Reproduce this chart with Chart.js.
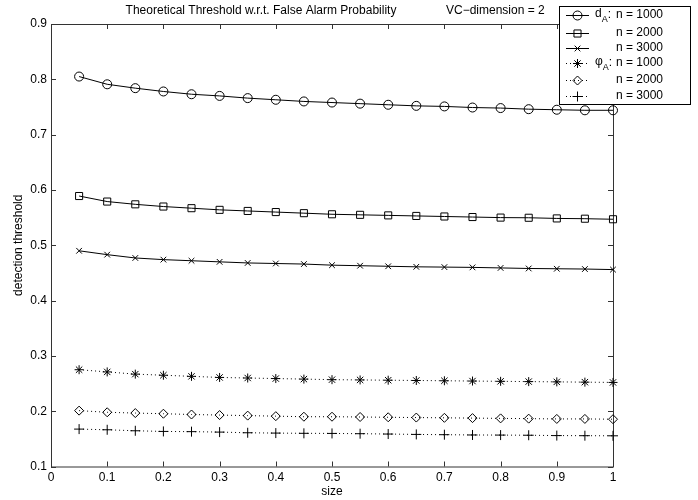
<!DOCTYPE html>
<html>
<head>
<meta charset="utf-8">
<title>Theoretical Threshold w.r.t. False Alarm Probability</title>
<script src="https://cdn.jsdelivr.net/npm/chart.js"></script>
<style>
  html, body { margin: 0; padding: 0; background: #fff; }
  #wrap { width: 698px; height: 500px; }
</style>
</head>
<body>
<div id="wrap"><canvas id="chart" width="698" height="500"></canvas></div>
<script>
// data
const sizes = [0.05, 0.1, 0.15, 0.2, 0.25, 0.3, 0.35, 0.4, 0.45, 0.5,
               0.55, 0.6, 0.65, 0.7, 0.75, 0.8, 0.85, 0.9, 0.95, 1.0];

const dA1000 = [0.805, 0.791, 0.784, 0.778, 0.773, 0.770, 0.766, 0.763, 0.760, 0.758,
                0.756, 0.754, 0.752, 0.751, 0.749, 0.748, 0.746, 0.745, 0.744, 0.744];
const dA2000 = [0.589, 0.579, 0.574, 0.570, 0.567, 0.564, 0.562, 0.560, 0.558, 0.556,
                0.555, 0.554, 0.553, 0.552, 0.551, 0.550, 0.5497, 0.5485, 0.548, 0.547];
const dA3000 = [0.490, 0.483, 0.477, 0.474, 0.472, 0.470, 0.468, 0.467, 0.466, 0.464,
                0.463, 0.462, 0.461, 0.4605, 0.460, 0.459, 0.458, 0.4575, 0.457, 0.456];
const phiA1000 = [0.275, 0.271, 0.267, 0.265, 0.263, 0.261, 0.260, 0.259, 0.258, 0.257,
                  0.2565, 0.256, 0.2555, 0.255, 0.2545, 0.254, 0.2535, 0.253, 0.2525, 0.252];
const phiA2000 = [0.201, 0.198, 0.1966, 0.1954, 0.194, 0.193, 0.192, 0.191, 0.190, 0.190,
                  0.1895, 0.189, 0.1885, 0.188, 0.1875, 0.187, 0.1865, 0.186, 0.186, 0.1855];
const phiA3000 = [0.1676, 0.1664, 0.1646, 0.1634, 0.163, 0.1622, 0.161, 0.1604, 0.160, 0.1598,
                  0.1593, 0.1587, 0.158, 0.1575, 0.157, 0.1568, 0.1565, 0.1559, 0.1557, 0.1555];

const xTicks = [0, 0.1, 0.2, 0.3, 0.4, 0.5, 0.6, 0.7, 0.8, 0.9, 1];
const xTickLabels = ['0', '0.1', '0.2', '0.3', '0.4', '0.5', '0.6', '0.7', '0.8', '0.9', '1'];
const yTicks = [0.1, 0.2, 0.3, 0.4, 0.5, 0.6, 0.7, 0.8, 0.9];
const yTickLabels = ['0.1', '0.2', '0.3', '0.4', '0.5', '0.6', '0.7', '0.8', '0.9'];

const seriesNames = ['n = 1000', 'n = 2000', 'n = 3000', 'n = 1000', 'n = 2000', 'n = 3000'];

const FONT = '"Liberation Sans", Arial, Helvetica, sans-serif';

function toPoints(ys) {
  return sizes.map((x, i) => ({ x: x, y: ys[i] }));
}

function series(label, ys, style, radius, dotted) {
  return {
    label: label,
    data: toPoints(ys),
    borderColor: '#000',
    borderWidth: 1,
    borderDash: dotted ? [1, 3] : [],
    pointStyle: style,
    pointRadius: radius,
    pointBorderWidth: 1,
    pointBorderColor: '#000',
    pointBackgroundColor: 'rgba(0,0,0,0)',
    tension: 0,
    fill: false,
    clip: false
  };
}

// box + inward ticks on all four sides (matlab style)
const axesBox = {
  id: 'axesBox',
  beforeDatasetsDraw(chart) {
    const { ctx, chartArea: a, scales } = chart;
    ctx.save();
    ctx.strokeStyle = '#333';
    ctx.lineWidth = 1;
    ctx.strokeRect(a.left + 0.5, a.top + 0.5, a.right - a.left, a.bottom - a.top);
    const len = 5;
    ctx.beginPath();
    scales.x.ticks.forEach(t => {
      const px = Math.round(scales.x.getPixelForValue(t.value)) + 0.5;
      ctx.moveTo(px, a.bottom); ctx.lineTo(px, a.bottom - len);
      ctx.moveTo(px, a.top); ctx.lineTo(px, a.top + len);
    });
    scales.y.ticks.forEach(t => {
      const py = Math.round(scales.y.getPixelForValue(t.value)) + 0.5;
      ctx.moveTo(a.left, py); ctx.lineTo(a.left + len, py);
      ctx.moveTo(a.right, py); ctx.lineTo(a.right - len, py);
    });
    ctx.stroke();
    ctx.restore();
  }
};

// title, axis titles and the legend box
const annotations = {
  id: 'annotations',
  afterDraw(chart) {
    const { ctx, chartArea: a } = chart;
    ctx.save();
    ctx.fillStyle = '#000';
    ctx.font = '12px ' + FONT;
    ctx.textBaseline = 'middle';

    ctx.textAlign = 'center';
    ctx.fillText('Theoretical Threshold w.r.t. False Alarm Probability', 261, 11);
    ctx.textAlign = 'left';
    ctx.fillText('VC\u2212dimension = 2', 446, 11);

    ctx.textAlign = 'center';
    ctx.fillText('size', (a.left + a.right) / 2, 492);
    ctx.save();
    ctx.translate(19, (a.top + a.bottom) / 2);
    ctx.rotate(-Math.PI / 2);
    ctx.fillText('detection threshold', 0, 0);
    ctx.restore();

    // legend
    const bx = 559, by = 6, bw = 131, bh = 98;
    ctx.fillStyle = '#fff';
    ctx.fillRect(bx, by, bw, bh);
    ctx.strokeStyle = '#000';
    ctx.lineWidth = 1;
    ctx.strokeRect(bx + 0.5, by + 0.5, bw, bh);

    const rowY = [15, 33, 48, 63, 80, 96];
    chart.data.datasets.forEach((ds, i) => {
      const y = rowY[i];
      ctx.save();
      ctx.strokeStyle = '#000';
      ctx.fillStyle = 'rgba(0,0,0,0)';
      ctx.lineWidth = 1;
      ctx.setLineDash(ds.borderDash);
      ctx.beginPath();
      ctx.moveTo(566, y + 0.5);
      ctx.lineTo(589, y + 0.5);
      ctx.stroke();
      ctx.setLineDash([]);
      Chart.helpers.drawPoint(ctx, {
        pointStyle: ds.pointStyle,
        radius: ds.pointRadius,
        rotation: 0,
        borderWidth: 1
      }, 577.5, y + 0.5);
      ctx.restore();

      ctx.fillStyle = '#000';
      ctx.textAlign = 'left';
      ctx.font = '12px ' + FONT;
      ctx.fillText(seriesNames[i], 616, y);
      if (i === 0 || i === 3) {
        const sym = i === 0 ? 'd' : '\u03c6';
        ctx.fillText(sym, 595, y - 1);
        const w = ctx.measureText(sym).width;
        ctx.font = '9px ' + FONT;
        ctx.fillText('A', 595 + w, y + 5);
        const wa = ctx.measureText('A').width;
        ctx.font = '12px ' + FONT;
        ctx.fillText(':', 595 + w + wa, y);
      }
    });
    ctx.restore();
  }
};

const ctx = document.getElementById('chart').getContext('2d');
new Chart(ctx, {
  type: 'line',
  data: {
    datasets: [
      series('d_A: n = 1000', dA1000, 'circle', 4.5, false),
      series('n = 2000', dA2000, 'rect', 5, false),
      series('n = 3000', dA3000, 'crossRot', 4, false),
      series('phi_A: n = 1000', phiA1000, 'star', 4.5, true),
      series('n = 2000', phiA2000, 'rectRot', 4.5, true),
      series('n = 3000', phiA3000, 'cross', 5, true)
    ]
  },
  options: {
    responsive: false,
    animation: false,
    layout: { padding: { left: 0, right: 85, top: 24, bottom: 0 } },
    plugins: {
      legend: { display: false },
      tooltip: { enabled: false },
      title: { display: false }
    },
    scales: {
      x: {
        type: 'linear',
        min: 0,
        max: 1,
        afterBuildTicks: (scale) => { scale.ticks = xTicks.map(v => ({ value: v })); },
        afterFit: (scale) => { scale.height = 33.5; },
        grid: { display: false, drawTicks: false },
        border: { display: false },
        ticks: {
          color: '#000',
          padding: 4,
          maxRotation: 0,
          autoSkip: false,
          font: { family: FONT, size: 12 },
          callback: (v, i) => xTickLabels[i]
        }
      },
      y: {
        type: 'linear',
        min: 0.1,
        max: 0.9,
        afterBuildTicks: (scale) => { scale.ticks = yTicks.map(v => ({ value: v })); },
        afterFit: (scale) => { scale.width = 51; },
        grid: { display: false, drawTicks: false },
        border: { display: false },
        ticks: {
          color: '#000',
          padding: 4,
          autoSkip: false,
          font: { family: FONT, size: 12 },
          callback: (v, i) => yTickLabels[i]
        }
      }
    }
  },
  plugins: [axesBox, annotations]
});
</script>
</body>
</html>
